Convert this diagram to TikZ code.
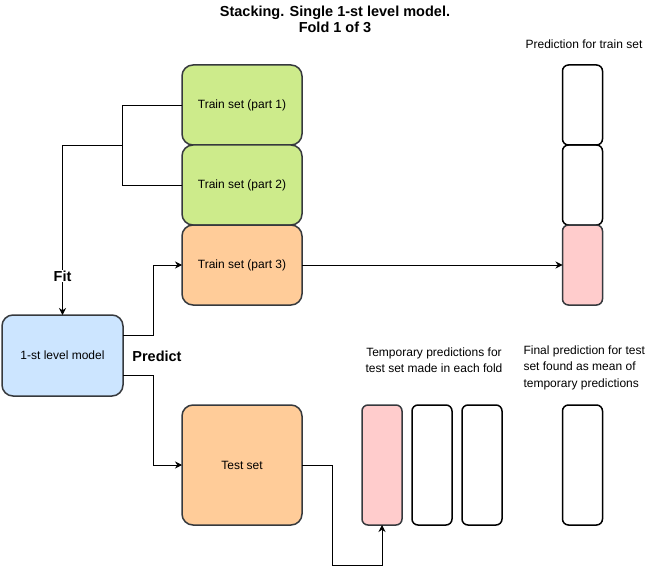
\documentclass[tikz,border=0pt]{standalone}
\usepackage{fontspec}
\setmainfont{Liberation Sans}
\usetikzlibrary{arrows.meta,positioning}
\definecolor{verde}{HTML}{CDEB8B}
\definecolor{arancio}{HTML}{FFCC99}
\definecolor{azzurro}{HTML}{CCE5FF}
\definecolor{rosa}{HTML}{FFCCCC}
\definecolor{bordo}{HTML}{36393D}
\tikzset{
>={Stealth[length=7pt,width=7pt]},
blocco/.style={rectangle,rounded corners=11pt,draw=bordo,line width=1.5pt,minimum width=120pt,minimum height=80pt,outer sep=0pt,font=\fontsize{12}{14}\selectfont},
colonna/.style={rectangle,rounded corners=6pt,draw=black,line width=1.5pt,minimum width=40pt,minimum height=120pt,outer sep=0pt},
connettore/.style={->,line width=0.8pt},
testo/.style={font=\fontsize{12}{16.5}\selectfont},
grassetto/.style={font=\fontsize{14.5}{16}\selectfont\bfseries}}

\begin{document}
\begin{tikzpicture}[x=1pt,y=-1pt]
      \useasboundingbox (0,0) rectangle (659,575);

      \node[grassetto,align=center] (titolo) at (335,19) {Stacking. Single 1-st level model.\\Fold 1 of 3};

      % train set folds
      \node[blocco,fill=verde] (t1) at (242,105) {Train set (part 1)};
      \node[blocco,fill=verde,below=0pt of t1] (t2) {Train set (part 2)};
      \node[blocco,fill=arancio,below=0pt of t2] (t3) {Train set (part 3)};

      \node[blocco,fill=azzurro,minimum width=121pt,minimum height=81pt] (m) at (62.5,355.5) {1-st level model};
      \node[blocco,fill=arancio,minimum height=120pt] (test) at (242,465) {Test set};

      % predictions for train set
      \node[testo] (lr) at (584,44) {Prediction for train set};
      \node[colonna,minimum height=80pt] (r1) at (582.5,105) {};
      \node[colonna,minimum height=80pt,below=0pt of r1] (r2) {};
      \node[colonna,minimum height=80pt,draw=bordo,fill=rosa,below=0pt of r2] (r3) {};

      % predictions for test set
      \node[testo,align=center] (lq) at (434,360) {Temporary predictions for\\test set made in each fold};
      \node[colonna,draw=bordo,fill=rosa] (q1) at (382,465) {};
      \node[colonna,right=10pt of q1] (q2) {};
      \node[colonna,right=10pt of q2] (q3) {};

      \node[testo,align=left,anchor=north west] (lf) at (520,342) {Final prediction for test\\set found as mean of\\temporary predictions};
      \node[colonna] (f) at (582.5,465) {};

      \node[grassetto] (pr) at (157,356) {Predict};

      \coordinate (b) at (122,145);
      \draw[line width=0.8pt] (t1.west) -- ++(-60,0) |- (t2.west);
      \draw[connettore] (b) -| node[pos=0.885,fill=white,grassetto,inner sep=1pt] {Fit} (m.north);
      \draw[connettore] ([yshift=20pt]m.east) -- ++(30,0) |- (t3.west);
      \draw[connettore] ([yshift=-20pt]m.east) -- ++(30,0) |- (test.west);
      \draw[connettore] (t3.east) -- (r3.west);
      \draw[connettore] (test.east) -- ++(30,0) -- ++(0,100) -| (q1.south);
\end{tikzpicture}
\end{document}
